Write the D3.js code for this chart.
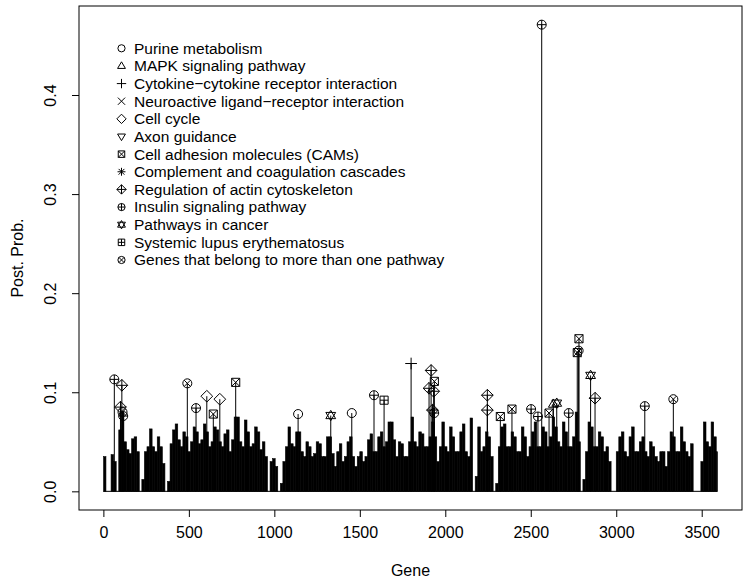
<!DOCTYPE html>
<html>
<head>
<meta charset="utf-8">
<script src="https://cdn.jsdelivr.net/npm/d3@7"></script>
<style>
  body { margin: 0; background: #fff; }
  svg text { font-family: "Liberation Sans", Arial, Helvetica, sans-serif; fill: #000; }
</style>
</head>
<body>
<svg id="chart" width="744" height="584"></svg>
<script>
// Background posterior probabilities in bins of 15 genes
const binSize = 15;
const binProb = [
  0.035, 0.000, 0.000, 0.037, 0.030, 0.000, 0.062, 0.080, 0.050, 0.042,
  0.038, 0.053, 0.055, 0.040, 0.000, 0.012, 0.040, 0.045, 0.063, 0.045,
  0.040, 0.055, 0.045, 0.028, 0.000, 0.010, 0.048, 0.062, 0.068, 0.052,
  0.045, 0.060, 0.055, 0.040, 0.050, 0.065, 0.060, 0.048, 0.052, 0.068,
  0.060, 0.045, 0.050, 0.065, 0.062, 0.050, 0.045, 0.058, 0.062, 0.040,
  0.052, 0.075, 0.075, 0.050, 0.045, 0.072, 0.060, 0.045, 0.048, 0.065,
  0.060, 0.042, 0.050, 0.035, 0.000, 0.030, 0.033, 0.025, 0.000, 0.008,
  0.030, 0.045, 0.065, 0.048, 0.045, 0.060, 0.060, 0.040, 0.035, 0.050,
  0.045, 0.035, 0.038, 0.050, 0.048, 0.035, 0.035, 0.055, 0.055, 0.038,
  0.025, 0.040, 0.048, 0.030, 0.035, 0.050, 0.055, 0.035, 0.025, 0.035,
  0.040, 0.030, 0.035, 0.052, 0.058, 0.040, 0.040, 0.055, 0.060, 0.045,
  0.050, 0.070, 0.070, 0.052, 0.035, 0.050, 0.048, 0.035, 0.035, 0.050,
  0.075, 0.050, 0.045, 0.060, 0.058, 0.045, 0.045, 0.055, 0.070, 0.055,
  0.030, 0.045, 0.070, 0.045, 0.040, 0.065, 0.055, 0.040, 0.040, 0.060,
  0.068, 0.040, 0.035, 0.074, 0.000, 0.015, 0.065, 0.040, 0.045, 0.060,
  0.055, 0.035, 0.000, 0.008, 0.045, 0.065, 0.068, 0.045, 0.045, 0.060,
  0.055, 0.040, 0.040, 0.065, 0.055, 0.035, 0.045, 0.060, 0.070, 0.045,
  0.045, 0.065, 0.060, 0.045, 0.055, 0.075, 0.065, 0.050, 0.045, 0.070,
  0.060, 0.045, 0.045, 0.055, 0.080, 0.050, 0.000, 0.012, 0.040, 0.070,
  0.065, 0.045, 0.045, 0.060, 0.055, 0.040, 0.045, 0.030, 0.000, 0.000,
  0.040, 0.055, 0.060, 0.040, 0.035, 0.055, 0.065, 0.040, 0.040, 0.050,
  0.055, 0.040, 0.035, 0.050, 0.045, 0.035, 0.030, 0.040, 0.040, 0.025,
  0.040, 0.060, 0.055, 0.040, 0.040, 0.065, 0.050, 0.040, 0.035, 0.048,
  0.000, 0.000, 0.000, 0.030, 0.070, 0.050, 0.045, 0.070, 0.055, 0.040
];
const nGenes = 3592;

// Genes flagged by pathway (gene index, posterior prob., pch symbol)
const markGene = [64, 100, 108, 112, 116, 491, 542, 605, 643, 681, 774, 1139, 1330, 1453,
  1583, 1642, 1800, 1905, 1917, 1925, 1932, 1935, 1936, 2246, 2246, 2322, 2390, 2502,
  2542, 2564, 2607, 2632, 2652, 2722, 2772, 2780, 2782, 2850, 2876, 3167, 3334];
const markProb = [0.113, 0.085, 0.107, 0.080, 0.076, 0.109, 0.084, 0.096, 0.078, 0.093, 0.110,
  0.078, 0.0765, 0.079, 0.097, 0.092, 0.129, 0.104, 0.122, 0.082, 0.101, 0.079, 0.111,
  0.097, 0.082, 0.0755, 0.083, 0.083, 0.0755, 0.471, 0.079, 0.088, 0.089, 0.079, 0.140,
  0.142, 0.154, 0.117, 0.094, 0.086, 0.093];
const markPch = [10, 9, 9, 13, 10, 13, 10, 5, 7, 5, 7, 1, 11, 1, 10, 12, 3, 9, 9, 9, 9, 10, 7,
  9, 9, 7, 7, 10, 10, 10, 7, 2, 11, 10, 7, 13, 7, 11, 9, 10, 13];

const legendLabels = [
  'Purine metabolism',
  'MAPK signaling pathway',
  'Cytokine\u2212cytokine receptor interaction',
  'Neuroactive ligand\u2212receptor interaction',
  'Cell cycle',
  'Axon guidance',
  'Cell adhesion molecules (CAMs)',
  'Complement and coagulation cascades',
  'Regulation of actin cytoskeleton',
  'Insulin signaling pathway',
  'Pathways in cancer',
  'Systemic lupus erythematosus',
  'Genes that belong to more than one pathway'
];
const legendPch = [1, 2, 3, 4, 5, 6, 7, 8, 9, 10, 11, 12, 13];

const xTicks = [0, 500, 1000, 1500, 2000, 2500, 3000, 3500];
const yTicks = [0.0, 0.1, 0.2, 0.3, 0.4];

// plot box, R style with 4% padding on each side
const box = { left: 79, right: 742, top: 6, bottom: 510 };
const xSpan = nGenes - 1;
const yMax = d3.max(markProb);
const x = d3.scaleLinear()
  .domain([1 - 0.04 * xSpan, nGenes + 0.04 * xSpan])
  .range([box.left, box.right]);
const y = d3.scaleLinear()
  .domain([-0.04 * yMax, yMax * 1.04])
  .range([box.bottom, box.top]);

const svg = d3.select('#chart');

// draws one of R's pch symbols into a group
function drawPch(g, pch, r) {
  const p = d3.path();
  const circle = (rr) => { p.moveTo(rr, 0); p.arc(0, 0, rr, 0, 2 * Math.PI); };
  const seg = (a, b, c, d) => { p.moveTo(a, b); p.lineTo(c, d); };
  const tri = (dir) => {
    const h = r * 1.15;
    p.moveTo(0, -dir * h);
    p.lineTo(h * 0.95, dir * h * 0.6);
    p.lineTo(-h * 0.95, dir * h * 0.6);
    p.closePath();
  };
  const diamond = () => {
    const d = r * 1.3;
    p.moveTo(0, -d); p.lineTo(d, 0); p.lineTo(0, d); p.lineTo(-d, 0); p.closePath();
  };
  const square = () => { p.rect(-r * 0.9, -r * 0.9, r * 1.8, r * 1.8); };
  if (pch === 1) circle(r);
  if (pch === 2) tri(1);
  if (pch === 3) { seg(-r * 1.3, 0, r * 1.3, 0); seg(0, -r * 1.3, 0, r * 1.3); }
  if (pch === 4) { seg(-r, -r, r, r); seg(-r, r, r, -r); }
  if (pch === 5) diamond();
  if (pch === 6) tri(-1);
  if (pch === 7) { square(); seg(-r * 0.9, -r * 0.9, r * 0.9, r * 0.9); seg(-r * 0.9, r * 0.9, r * 0.9, -r * 0.9); }
  if (pch === 8) {
    seg(-r * 1.1, 0, r * 1.1, 0); seg(0, -r * 1.1, 0, r * 1.1);
    seg(-r * 0.8, -r * 0.8, r * 0.8, r * 0.8); seg(-r * 0.8, r * 0.8, r * 0.8, -r * 0.8);
  }
  if (pch === 9) { diamond(); seg(-r * 1.3, 0, r * 1.3, 0); seg(0, -r * 1.3, 0, r * 1.3); }
  if (pch === 10) { circle(r); seg(-r, 0, r, 0); seg(0, -r, 0, r); }
  if (pch === 11) { tri(1); tri(-1); }
  if (pch === 12) { square(); seg(-r * 0.9, 0, r * 0.9, 0); seg(0, -r * 0.9, 0, r * 0.9); }
  if (pch === 13) { circle(r); seg(-r * 0.7, -r * 0.7, r * 0.7, r * 0.7); seg(-r * 0.7, r * 0.7, r * 0.7, -r * 0.7); }
  g.append('path')
    .attr('d', p.toString())
    .attr('fill', 'none')
    .attr('stroke', '#000')
    .attr('stroke-width', 1);
}

// background spikes, one bar per bin (thin stroke so neighbours join up)
const bins = binProb.map((v, i) => ({ start: i * binSize, prob: v }));
svg.append('g').selectAll('rect')
  .data(bins.filter(d => d.prob > 0))
  .enter()
  .append('rect')
  .attr('x', d => x(Math.max(d.start, 1)))
  .attr('width', d => x(Math.min(d.start + binSize, nGenes)) - x(Math.max(d.start, 1)))
  .attr('y', d => y(d.prob))
  .attr('height', d => y(0) - y(d.prob))
  .attr('fill', '#000')
  .attr('stroke', '#000')
  .attr('stroke-width', 0.6);

// zero line along all genes
svg.append('line')
  .attr('x1', x(1)).attr('x2', x(nGenes))
  .attr('y1', y(0)).attr('y2', y(0))
  .attr('stroke', '#000');

// flagged genes: vertical line and symbol
const marks = markGene.map((g, i) => ({ gene: g, prob: markProb[i], pch: markPch[i] }));
svg.append('g').selectAll('line')
  .data(marks)
  .enter()
  .append('line')
  .attr('x1', d => x(d.gene)).attr('x2', d => x(d.gene))
  .attr('y1', y(0)).attr('y2', d => y(d.prob))
  .attr('stroke', '#000');
svg.append('g').selectAll('g')
  .data(marks)
  .enter()
  .append('g')
  .attr('transform', d => `translate(${x(d.gene)},${y(d.prob)})`)
  .each(function (d) { drawPch(d3.select(this), d.pch, 4.5); });

// box
svg.append('rect')
  .attr('x', box.left).attr('y', box.top)
  .attr('width', box.right - box.left).attr('height', box.bottom - box.top)
  .attr('fill', 'none').attr('stroke', '#000');

// axes
const xAxis = d3.axisBottom(x).tickValues(xTicks).tickSize(7).tickPadding(5).tickFormat(d3.format('d'));
const yAxis = d3.axisLeft(y).tickValues(yTicks).tickSize(7).tickPadding(5).tickFormat(d3.format('.1f'));
const gx = svg.append('g').attr('transform', `translate(0,${box.bottom})`).call(xAxis);
const gy = svg.append('g').attr('transform', `translate(${box.left},0)`).call(yAxis);
gx.select('.domain').remove();
gy.select('.domain').remove();
gx.selectAll('text').attr('font-size', 16).attr('dy', '1.0em')
  .attr('font-family', '"Liberation Sans", Arial, sans-serif');
gy.selectAll('text').attr('font-size', 16)
  .attr('font-family', '"Liberation Sans", Arial, sans-serif')
  .attr('text-anchor', 'middle')
  .attr('x', 0).attr('y', 0).attr('dy', '0.35em')
  .attr('transform', 'translate(-29,0) rotate(-90)');
svg.selectAll('.tick line').attr('stroke', '#000');

// axis titles
svg.append('text')
  .attr('x', (box.left + box.right) / 2)
  .attr('y', 576)
  .attr('text-anchor', 'middle')
  .attr('font-size', 16)
  .text('Gene');
svg.append('text')
  .attr('transform', `translate(23,${(box.top + box.bottom) / 2}) rotate(-90)`)
  .attr('text-anchor', 'middle')
  .attr('font-size', 16)
  .text('Post. Prob.');

// legend, no frame
const leg = svg.append('g').selectAll('g')
  .data(legendLabels)
  .enter()
  .append('g')
  .attr('transform', (d, i) => `translate(121.5,${48.3 + i * 17.64})`);
leg.each(function (d, i) { drawPch(d3.select(this), legendPch[i], 3.6); });
leg.append('text')
  .attr('x', 12.5)
  .attr('dy', '0.35em')
  .attr('font-size', 15.5)
  .text(d => d);
</script>
</body>
</html>
